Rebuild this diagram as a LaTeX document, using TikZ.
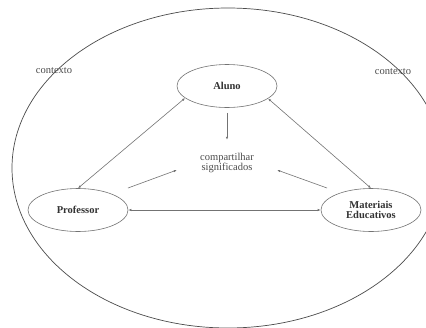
\documentclass[tikz,border=0pt]{standalone}
\usepackage{fontspec}
\setmainfont{Liberation Serif}
\usetikzlibrary{shapes.geometric,arrows.meta}
\begin{document}
\begin{tikzpicture}[x=1pt,y=-1pt,
  actor/.style={draw=black!55,line width=0.6pt,ellipse,minimum width=100pt,minimum height=43pt,inner sep=0pt,
    font=\fontsize{10.5}{10}\selectfont\bfseries,text=black!80,align=center},
  conn/.style={draw=black!55,line width=0.6pt},
  tip/.style={-{Latex[length=3pt,width=2.4pt]}},
  both/.style={{Latex[length=3pt,width=2.4pt]}-{Latex[length=3pt,width=2.4pt]}},
  lbl/.style={font=\fontsize{10.5}{10}\selectfont,text=black!70,align=center,inner sep=0pt}]
\useasboundingbox (0,0) rectangle (426,327);
\clip (0,0) rectangle (426,327);
\fill[white] (0,0) rectangle (426,327);
\draw[black!70,line width=0.7pt] (228,168) ellipse [x radius=216, y radius=160];
\node[lbl] (ctxl) at (54,71) {contexto};
\node[lbl] (ctxr) at (393,72) {contexto};
\node[actor] (aluno) at (227,86) {Aluno};
\node[actor] (prof) at (78,210) {Professor};
\node[actor] (mat) at (371,210) {Materiais\\Educativos};
\node[lbl,minimum width=100pt,minimum height=46pt] (comp) at (227,163) {compartilhar\\significados};
\coordinate (p1) at (128,188);
\coordinate (m1) at (327,188);
\draw[conn,both] (aluno.196) -- (prof.north);
\draw[conn,both] (aluno.343) -- (mat.north);
\draw[conn,tip,shorten <=5pt] (aluno.south) -- (comp.north);
\draw[conn,tip] (p1) -- (comp.188);
\draw[conn,tip] (m1) -- (comp.352);
\draw[conn,both] (prof.east) -- (mat.west);
\end{tikzpicture}
\end{document}
